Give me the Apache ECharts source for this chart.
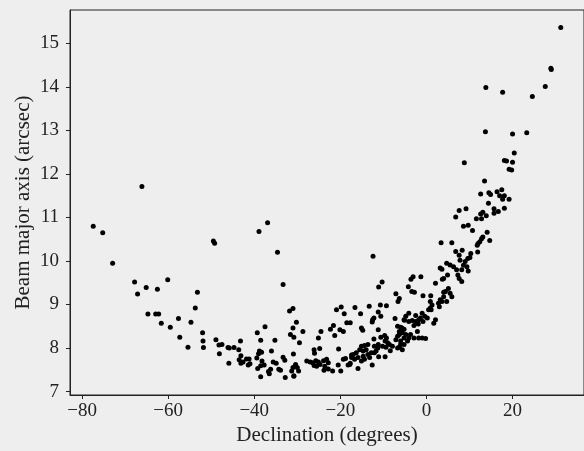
<!DOCTYPE html>
<html>
<head>
<meta charset="utf-8">
<script src="https://cdn.jsdelivr.net/npm/echarts@6.0.0/dist/echarts.min.js"></script>
<style>
  html, body { margin: 0; padding: 0; background: #eeeeee; }
  #main { width: 584px; height: 451px; }
</style>
</head>
<body>
<div id="main"></div>
<script>
// declination (degrees) of each field
var decl = [
  -66.1, -77.4, -75.2, -72.9, -67.8, -60.1, -65.1, -62.5, -67.1, -53.2, -53.7, -64.7, -62.9, -62.2, -61.6, -57.6, -54.7, -59.5, -57.3, -52.0, -51.9, -51.8, -55.4,
  -36.9, -38.9, -49.5, -49.2, -34.6, -33.3, -31.8, -31.0, -30.2, -48.9, -48.2, -47.5, -48.1, -46.1, -45.8, -44.7, -45.9, -43.6, -43.2, -43.1, -43.5, -42.6, -43.1,
  -41.8, -41.2, -41.0, -41.4, -39.3, -37.5, -38.5, -35.2, -38.8, -38.3, -39.0, -39.4, -38.2, -36.0, -39.2, -38.5, -37.7, -36.7, -36.2, -36.5, -35.6, -34.9, -38.5,
  -34.3, -33.9, -33.3, -32.9, -30.9, -31.6, -30.8, -31.0, -32.8, -30.8, -31.0, -30.4, -31.3,
  -28.7, -29.5, -20.9, -19.8, -19.1, -18.5, -17.7, -21.6, -22.3, -21.3, -20.1, -19.3, -24.5, -25.1, -24.8, -26.1, -26.0, -20.4, -17.4, -19.3, -18.8,
  -27.8, -27.0, -26.4, -25.7, -25.1, -26.1, -25.5, -24.7, -23.9, -23.2, -22.8, -23.6, -23.8, -22.8, -21.8, -20.5, -19.9, -18.2, -17.7, -30.4, -30.0, -30.8, -29.7,
  -12.4, -10.3, -11.1, -7.1, -6.3, -16.6, -13.3, -10.7, -9.3, -11.2, -15.3, -10.6, -12.5, -12.6, -12.2, -15.1, -14.8, -7.3, -5.1, -11.2, -12.2, -10.6, -9.7, -9.3,
  -6.3, -5.7, -6.7, -7.1, -6.0, -5.2, -6.3, -7.9, -9.6, -9.0, -8.6, -10.2, -9.4, -11.2, -11.3, -12.1, -8.4, -9.6,
  -15.1, -14.4, -13.6, -14.0, -14.7, -15.5, -16.3, -17.0, -17.4, -16.7, -15.9, -14.7, -13.6, -12.8, -12.1, -11.7, -13.2, -14.4, -15.1, -17.8, -15.9, -12.6, -11.1,
  3.4, 3.2, 3.6, 3.7, 2.1, -3.1, -3.6, -1.3, -4.2, -3.4, -2.8, -6.6, -0.8, 1.0, 4.0, 3.2, 2.8, 3.6, 3.0, 0.9, 1.3, 0.9, 0.5, 1.1,
  -1.0, -0.4, -1.4, 0.2, -1.8, -2.5, -0.8, -1.9, -2.9, -4.1, -4.8, -5.2, -4.1, -3.3, -2.5, 2.1, 1.7,
  -6.7, -6.0, -5.2, -5.6, -6.3, -4.8, -4.1, -4.4, -5.2, -6.0, -6.7, -5.6, -3.7, -2.9, -2.1, -1.8, -1.0, -0.2,
  13.5, 12.6, 7.6, 9.2, 6.8, 12.6, 13.1, 11.6, 12.8, 8.6, 9.7, 10.7, 5.9, 12.8, 12.4, 12.0, 11.8, 6.8, 8.3, 7.6, 10.3, 10.1,
  7.8, 9.0, 9.6, 8.6, 9.4, 9.7, 8.2, 7.3, 7.6, 8.2, 7.0, 6.3, 5.5, 4.7, 4.0, 4.9, 4.4, 5.1, 5.5, 5.9, 4.0, 4.7,
  31.2, 28.9, 29.0, 27.6, 24.6, 13.8, 17.7, 13.7, 20.0, 23.3, 20.4, 18.1, 18.6, 20.0, 19.2, 19.8, 14.5, 14.9, 16.4, 17.5, 17.0, 17.7, 19.2, 18.1,
  14.4, 15.7, 16.7, 18.1, 15.7, 13.9, 14.1, 14.7, 13.1, 11.9, 8.8
];
// beam major axis (arcsec), same order
var beamMajor = [
  11.71, 10.80, 10.65, 9.95, 9.52, 9.57, 9.39, 9.35, 9.24, 9.28, 8.92, 8.78, 8.78, 8.78, 8.57, 8.68, 8.59, 8.48, 8.25, 8.35, 8.16, 8.01, 8.02,
  10.88, 10.68, 10.46, 10.41, 10.20, 9.46, 8.85, 8.91, 8.59, 8.19, 8.07, 8.08, 7.87, 8.01, 8.00, 8.01, 7.65, 7.96, 8.16, 7.82, 7.73, 7.68, 7.65,
  7.75, 7.75, 7.64, 7.61, 8.35, 8.49, 8.18, 8.18, 7.93, 7.90, 7.87, 7.77, 7.70, 7.93, 7.53, 7.59, 7.61, 7.46, 7.51, 7.41, 7.68, 7.65, 7.34,
  7.51, 7.49, 7.79, 7.72, 7.86, 8.31, 8.25, 8.46, 7.32, 7.35, 7.55, 7.59, 7.47,
  8.38, 8.12, 8.88, 8.94, 8.79, 8.58, 8.58, 8.52, 8.43, 8.29, 8.42, 8.38, 8.38, 8.23, 7.99, 7.96, 7.88, 7.98, 7.84, 7.74, 7.76,
  7.70, 7.68, 7.66, 7.71, 7.68, 7.60, 7.58, 7.62, 7.71, 7.74, 7.66, 7.58, 7.49, 7.52, 7.47, 7.61, 7.47, 7.61, 7.65, 7.62, 7.55, 7.36, 7.47,
  10.11, 9.52, 9.40, 9.25, 9.14, 8.93, 8.96, 8.99, 8.97, 8.83, 8.79, 8.73, 8.65, 8.60, 8.69, 8.46, 8.41, 8.68, 8.64, 8.42, 8.21, 8.25, 8.29, 8.23,
  8.38, 8.46, 8.27, 8.19, 8.16, 8.23, 8.02, 8.04, 8.16, 8.12, 8.08, 8.04, 8.02, 8.08, 8.00, 8.04, 7.94, 7.80,
  8.04, 8.06, 8.08, 7.96, 7.93, 7.96, 7.89, 7.85, 7.78, 7.74, 7.78, 7.81, 7.85, 7.89, 7.89, 7.93, 7.78, 7.74, 7.70, 7.62, 7.53, 7.61, 7.80,
  10.42, 9.84, 9.81, 9.58, 9.49, 9.64, 9.58, 9.64, 9.41, 9.30, 9.28, 9.07, 9.20, 9.20, 9.28, 9.11, 9.03, 9.07, 8.95, 9.07, 8.99, 8.92, 8.88, 8.88,
  8.80, 8.73, 8.69, 8.69, 8.65, 8.61, 8.61, 8.55, 8.52, 8.80, 8.73, 8.65, 8.61, 8.63, 8.75, 8.65, 8.57,
  8.50, 8.48, 8.43, 8.35, 8.31, 8.31, 8.23, 8.16, 8.08, 8.08, 8.00, 7.96, 8.31, 8.23, 8.38, 8.23, 8.23, 8.22,
  11.84, 11.54, 11.16, 11.20, 11.01, 11.08, 11.12, 10.97, 10.97, 10.80, 10.82, 10.70, 10.42, 10.51, 10.44, 10.40, 10.36, 10.22, 10.25, 10.13, 10.17, 10.08,
  10.02, 9.99, 10.06, 9.90, 9.87, 9.77, 9.80, 9.68, 9.60, 9.53, 9.80, 9.87, 9.91, 9.95, 9.60, 9.68, 9.30, 9.37, 9.26, 9.18, 9.18, 9.07,
  15.37, 14.43, 14.40, 14.01, 13.78, 13.99, 13.88, 12.97, 12.92, 12.95, 12.48, 12.31, 12.30, 12.27, 12.11, 12.09, 11.57, 11.53, 11.59, 11.64, 11.50, 11.42, 11.42, 11.50,
  11.33, 11.20, 11.14, 11.21, 11.10, 11.04, 10.66, 10.47, 10.55, 10.21, 12.26
];

var xTicks = [-80, -60, -40, -20, 0, 20];
var yTicks = [7, 8, 9, 10, 11, 12, 13, 14, 15];

var points = decl.map(function (d, i) { return [d, beamMajor[i]]; });

var font = 'Liberation Serif';
var ink = '#222';

var chart = echarts.init(document.getElementById('main'));
var option = {
  backgroundColor: '#eeeeee',
  animation: false,
  grid: {
    left: 70, right: -7, top: 10, bottom: 54,
    show: true, borderColor: ink, borderWidth: 1, backgroundColor: 'transparent'
  },
  xAxis: {
    type: 'value',
    min: -82.8,
    max: 36.6,
    name: 'Declination (degrees)',
    nameLocation: 'middle',
    nameGap: 30,
    nameMoveOverlap: false,
    nameTextStyle: { fontFamily: font, fontSize: 21, color: ink },
    axisLine: { onZero: false, lineStyle: { color: ink, width: 1 } },
    axisTick: { inside: false, length: 4, customValues: xTicks, lineStyle: { color: ink, width: 1 } },
    axisLabel: {
      customValues: xTicks,
      margin: 7,
      fontFamily: font,
      fontSize: 19,
      color: ink,
      formatter: function (v) { return String(v).replace('-', '\u2212'); }
    },
    splitLine: { show: false }
  },
  yAxis: {
    type: 'value',
    min: 6.92,
    max: 15.77,
    name: 'Beam major axis (arcsec)',
    nameLocation: 'middle',
    nameGap: 36,
    nameMoveOverlap: false,
    nameTextStyle: { fontFamily: font, fontSize: 21, color: ink },
    axisLine: { show: true, onZero: false, lineStyle: { color: ink, width: 1 } },
    axisTick: { show: true, inside: false, length: 4, customValues: yTicks, lineStyle: { color: ink, width: 1 } },
    axisLabel: { customValues: yTicks, margin: 11, fontFamily: font, fontSize: 19, color: ink },
    splitLine: { show: false }
  },
  series: [{
    type: 'scatter',
    data: points,
    symbolSize: 5,
    itemStyle: { color: '#000', opacity: 1 }
  }]
};
chart.setOption(option);
</script>
</body>
</html>
